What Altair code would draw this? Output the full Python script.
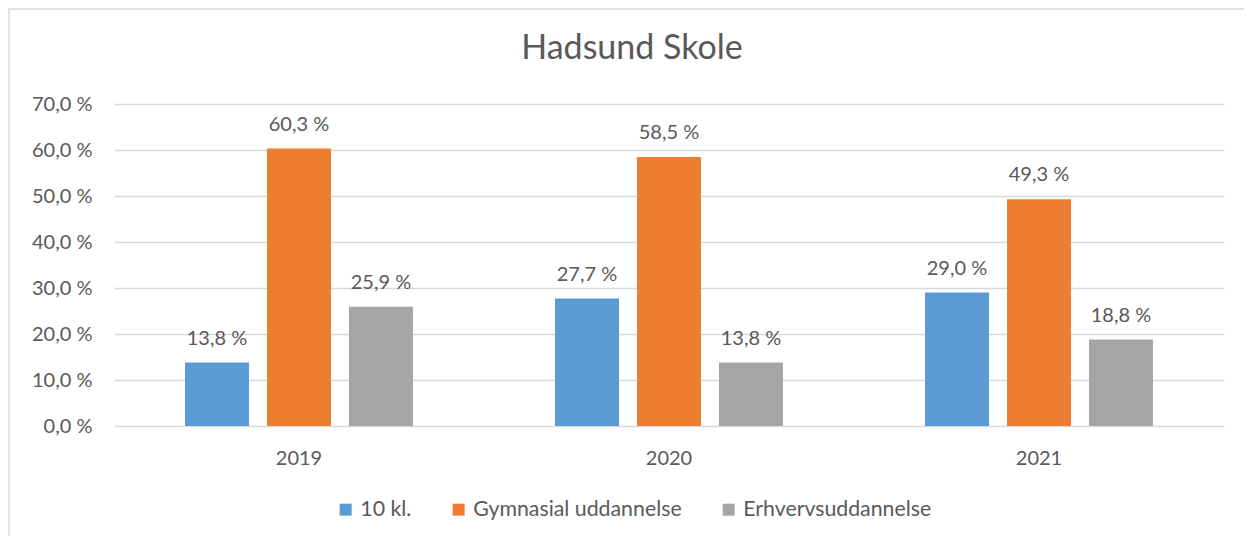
import altair as alt
import pandas as pd

title_text = "Hadsund Skole"
years = ["2019", "2020", "2021"]
series = ["10 kl.", "Gymnasial uddannelse", "Erhvervsuddannelse"]
colors = ["#5b9bd5", "#ed7d31", "#a5a5a5"]
v_10kl = [13.8, 27.7, 29.0]
v_gym = [60.3, 58.5, 49.3]
v_erh = [25.9, 13.8, 18.8]

rows = []
for i, y in enumerate(years):
    for s, vals in zip(series, [v_10kl, v_gym, v_erh]):
        rows.append({"year": y, "serie": s, "value": vals[i]})
df = pd.DataFrame(rows)

FONT = "Lato"
GRAY = "#595959"

x = alt.X("year:N", title=None, sort=years,
          scale=alt.Scale(paddingInner=0.384, paddingOuter=0.192),
          axis=alt.Axis(labelAngle=0, ticks=False, domain=False, labelPadding=22,
                        labelFontSize=20, labelColor=GRAY, labelFont=FONT))
xo = alt.XOffset("serie:N", sort=series, scale=alt.Scale(paddingInner=0.22, paddingOuter=0))
y = alt.Y("value:Q", title=None,
          scale=alt.Scale(domain=[0, 70], nice=False),
          axis=alt.Axis(values=[0, 10, 20, 30, 40, 50, 60, 70], domain=False, ticks=False,
                        labelPadding=22, labelFontSize=20, labelColor=GRAY, labelFont=FONT,
                        labelExpr="replace(format(datum.value, '.1f'), '.', ',') + ' %'",
                        gridColor="#d9d9d9", gridWidth=1.3))
color = alt.Color("serie:N", sort=series, scale=alt.Scale(domain=series, range=colors),
                  legend=alt.Legend(title=None, orient="none", direction="horizontal",
                                    legendX=221, legendY=395, symbolType="square",
                                    symbolSize=144, symbolStrokeWidth=0, labelFontSize=21.3,
                                    labelFont=FONT, labelColor=GRAY, labelOffset=4,
                                    labelLimit=400, columnPadding=36))

base = alt.Chart(df)
bars = base.mark_bar().encode(x=x, xOffset=xo, y=y, color=color)
labels = base.mark_text(baseline="alphabetic", dy=-18, fontSize=20, font=FONT, color=GRAY).encode(
    x=x, xOffset=xo, y=y,
    text=alt.Text("lbl:N")).transform_calculate(
    lbl="replace(format(datum.value, '.1f'), '.', ',') + ' %'")

frame = alt.Chart(pd.DataFrame({"a": [0]})).mark_rect(
    fill=None, stroke="#d9d9d9", strokeWidth=1.5).encode(
    x=alt.value(-105), x2=alt.value(1160), y=alt.value(-95), y2=alt.value(460))

title = alt.Chart(pd.DataFrame({"t": [title_text]})).mark_text(
    fontSize=34, font=FONT, color=GRAY, baseline="alphabetic", align="center").encode(
    text="t:N", x=alt.value(518), y=alt.value(-45))

chart = alt.layer(frame, bars, labels, title).properties(
    width=1110, height=322,
    autosize=alt.AutoSizeParams(type="none"),
    padding={"left": 106, "top": 96, "right": 20, "bottom": 110},
).configure_view(stroke=None)

chart.save("out.html", embed_options={"renderer": "svg", "actions": False})
